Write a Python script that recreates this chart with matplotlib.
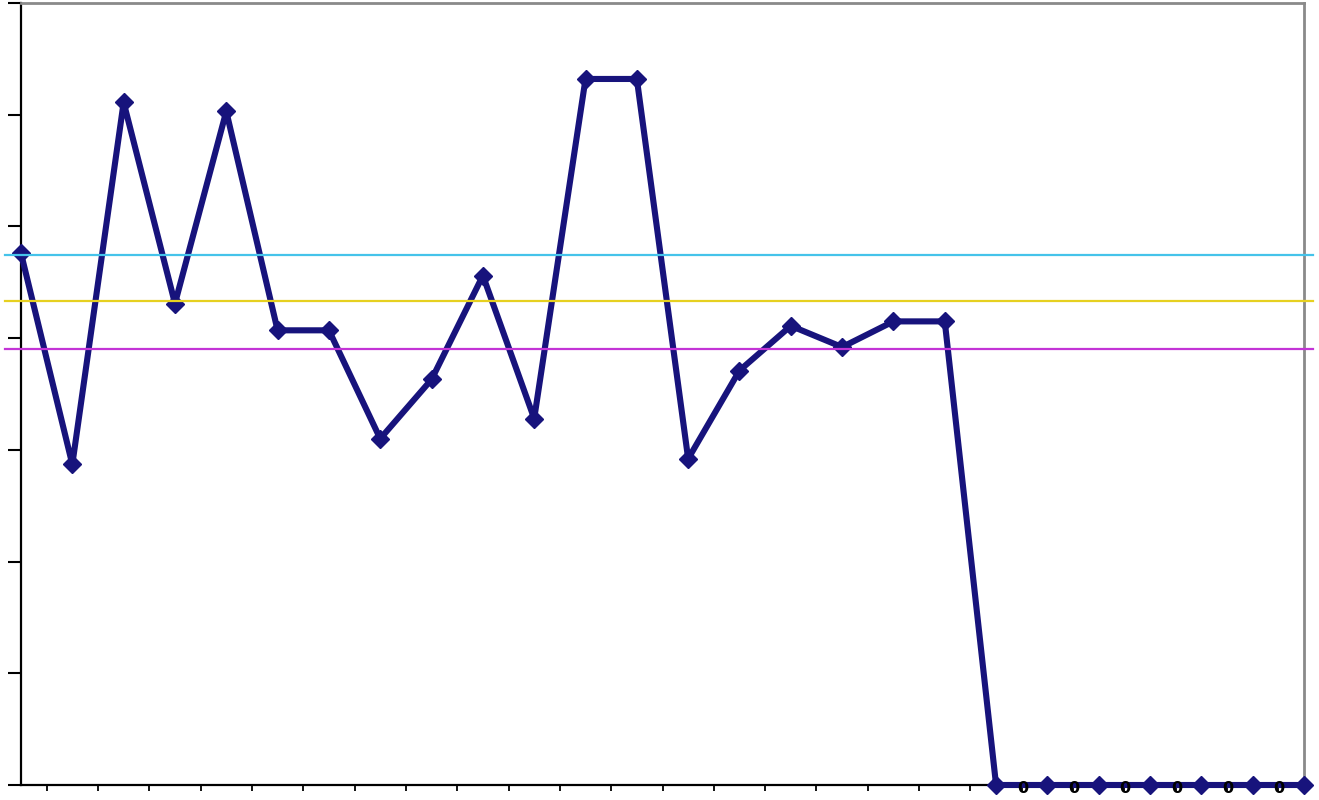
import matplotlib
matplotlib.use("Agg")
import matplotlib.pyplot as plt

# Data
values = [4.76, 2.87, 6.11, 4.31, 6.03, 4.07, 4.07, 3.10, 3.63, 4.56,
          3.28, 6.32, 6.32, 2.92, 3.71, 4.11, 3.92, 4.15, 4.15,
          0, 0, 0, 0, 0, 0, 0]
ref_lines = [4.74, 4.33, 3.90]
ref_colors = ["#45c3ea", "#e6d020", "#c334d6"]
y_ticks = [0, 1, 2, 3, 4, 5, 6, 7]

x = list(range(len(values)))

fig = plt.figure(figsize=(13.19, 8.0), dpi=100)
ax = fig.add_axes([21/1319, 15/800, (1304-21)/1319, (785-3)/800])

ax.plot(x, values, color="#17137c", lw=4.4, marker="D", markersize=9,
        markeredgecolor="#17137c", markerfacecolor="#17137c", zorder=3,
        clip_on=False, solid_joinstyle="round")

for v, c in zip(ref_lines, ref_colors):
    ax.plot([-0.32, len(values) - 1 + 0.18], [v, v], color=c, lw=1.6,
            zorder=4, clip_on=False)

# data labels for zero points
for xi, v in zip(x, values):
    if v == 0 and xi < len(values) - 1:
        ax.annotate("0", (xi, v), xytext=(19, -2.5), textcoords="offset points",
                    ha="center", va="center", fontsize=11.5, fontweight="bold",
                    family="DejaVu Sans", color="black",
                    zorder=5, annotation_clip=False)

ax.set_xlim(0, len(values) - 1)
ax.set_ylim(0, 7)
ax.set_yticks(y_ticks)
ax.set_xticks([i + 0.5 for i in range(len(values) - 1)])
ax.set_yticklabels([])
ax.set_xticklabels([])
ax.tick_params(axis="y", direction="out", length=9.5, width=1.5, color="black")
ax.tick_params(axis="x", direction="out", length=4.5, width=1.3, color="black")

ax.spines["left"].set_color("black")
ax.spines["left"].set_linewidth(1.6)
ax.spines["bottom"].set_color("black")
ax.spines["bottom"].set_linewidth(1.6)
for s in ("top", "right"):
    ax.spines[s].set_color("#8a8a8a")
    ax.spines[s].set_linewidth(2.0)

fig.savefig("out.png", dpi=100)
